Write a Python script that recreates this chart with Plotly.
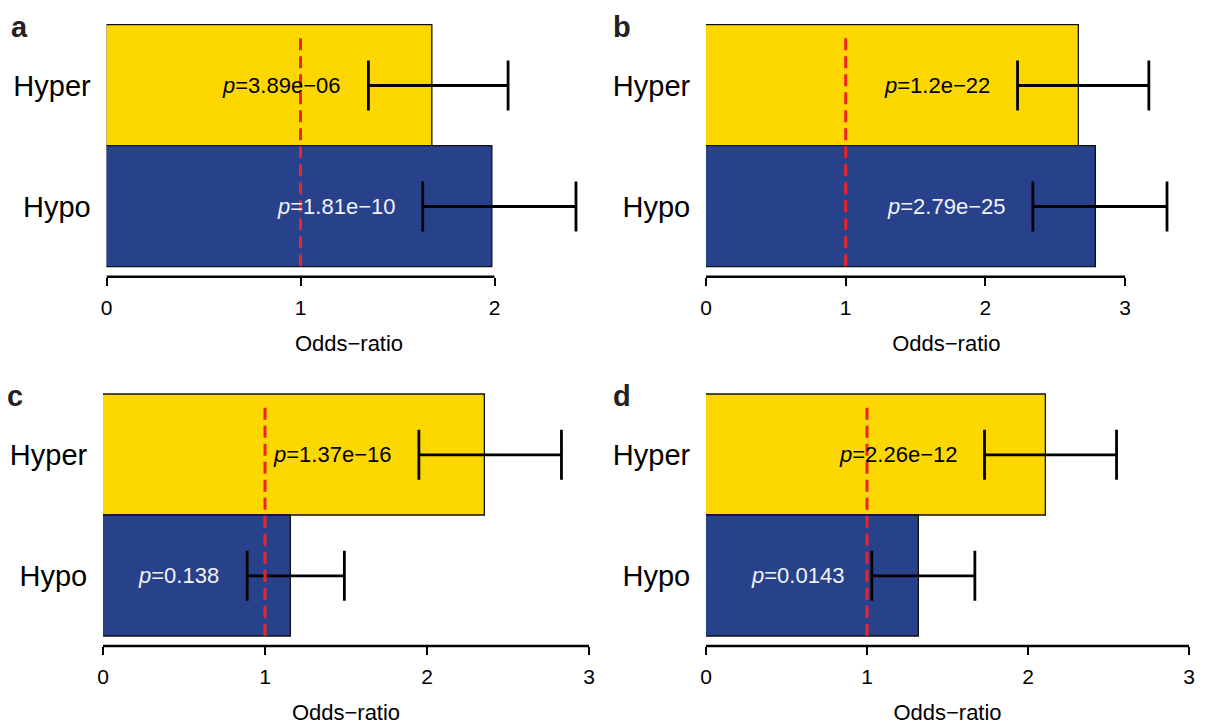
import plotly.graph_objects as go

categories = ["Hyper", "Hypo"]
panel_letters = ["a", "b", "c", "d"]

# odds ratios, confidence bounds, p-value labels per panel
or_a = [1.68, 1.99]
lo_a = [1.35, 1.63]
hi_a = [2.07, 2.42]
p_a = ["3.89e−06", "1.81e−10"]

or_b = [2.67, 2.79]
lo_b = [2.23, 2.34]
hi_b = [3.17, 3.30]
p_b = ["1.2e−22", "2.79e−25"]

or_c = [2.36, 1.16]
lo_c = [1.95, 0.89]
hi_c = [2.83, 1.49]
p_c = ["1.37e−16", "0.138"]

or_d = [2.11, 1.32]
lo_d = [1.73, 1.03]
hi_d = [2.55, 1.67]
p_d = ["2.26e−12", "0.0143"]

ticks_a = [0, 1, 2]
ticks_b = [0, 1, 2, 3]
ticks_c = [0, 1, 2, 3]
ticks_d = [0, 1, 2, 3]

ref_value = 1

OFF = 8  # page body margin
W, H = 1206 - OFF, 727 - OFF
YELLOW = "#FCD700"
BLUE = "#27428A"
RED = "#EE2229"
FONT = "Liberation Sans, Arial, Helvetica, sans-serif"

panels = [
    dict(orv=or_a, lo=lo_a, hi=hi_a, p=p_a, ticks=ticks_a, xr=[0, 2.5], px0=106.5, unit=194.0, ybot=276.7),
    dict(orv=or_b, lo=lo_b, hi=hi_b, p=p_b, ticks=ticks_b, xr=[0, 3.44], px0=706.0, unit=139.7, ybot=276.7),
    dict(orv=or_c, lo=lo_c, hi=hi_c, p=p_c, ticks=ticks_c, xr=[0, 3.0], px0=103.0, unit=162.0, ybot=646.0),
    dict(orv=or_d, lo=lo_d, hi=hi_d, p=p_d, ticks=ticks_d, xr=[0, 3.0], px0=706.0, unit=161.0, ybot=646.0),
]

fig = go.Figure()
annotations = []
shapes = []
layout_axes = {}
yrange = [1.58, -0.58]
bar_px = 242.0
region_h = bar_px * (yrange[0] - yrange[1]) / 2.0

for i, pnl in enumerate(panels):
    n = "" if i == 0 else str(i + 1)
    xa, ya = "x" + n, "y" + n
    px0 = pnl["px0"] - OFF
    ybot = pnl["ybot"] - OFF
    xd0 = px0 / W
    xd1 = (px0 + pnl["unit"] * pnl["xr"][1]) / W
    yd0 = 1 - ybot / H
    yd1 = 1 - (ybot - region_h) / H

    fig.add_trace(go.Bar(
        x=pnl["orv"], y=categories, orientation="h",
        marker=dict(color=[YELLOW, BLUE], line=dict(color="#111111", width=1.3)),
        xaxis=xa, yaxis=ya, showlegend=False, hoverinfo="skip",
    ))
    # confidence intervals
    fig.add_trace(go.Scatter(
        x=pnl["orv"], y=categories, mode="markers",
        marker=dict(size=1, color="rgba(0,0,0,0)"),
        error_x=dict(type="data", symmetric=False,
                     array=[h - v for h, v in zip(pnl["hi"], pnl["orv"])],
                     arrayminus=[v - l for v, l in zip(pnl["orv"], pnl["lo"])],
                     color="black", thickness=2.8, width=25),
        xaxis=xa, yaxis=ya, showlegend=False, hoverinfo="skip",
    ))
    for j, cat in enumerate(categories):
        annotations.append(dict(
            x=pnl["lo"][j], y=cat, xref=xa, yref=ya,
            text="<i>p</i>=" + pnl["p"][j], showarrow=False,
            xanchor="right", xshift=-26,
            font=dict(family=FONT, size=22, color="black" if j == 0 else "#F2F2F7"),
        ))
    # reference line at OR = 1
    shapes.append(dict(
        type="line", xref=xa, yref=ya, layer="above",
        x0=ref_value, x1=ref_value, y0=-0.39, y1=1.5,
        line=dict(color=RED, width=3, dash="12px,6px"),
    ))
    # axis line spanning tick range
    shapes.append(dict(
        type="line", xref=xa, yref=ya + " domain",
        x0=pnl["ticks"][0], x1=pnl["ticks"][-1], y0=0, y1=0,
        line=dict(color="black", width=2.4),
    ))
    annotations.append(dict(
        x=(px0 - 98) / W if i % 2 == 0 else (px0 - 95) / W,
        y=1 - (ybot - 250) / H, xref="paper", yref="paper",
        text="<b>" + panel_letters[i] + "</b>", showarrow=False,
        xanchor="left", yanchor="middle",
        font=dict(family=FONT, size=29, color="#222222"),
    ))
    layout_axes["xaxis" + n] = dict(
        domain=[xd0, xd1], range=pnl["xr"], anchor=ya, automargin=False,
        tickvals=pnl["ticks"], ticktext=[str(t) for t in pnl["ticks"]],
        ticks="outside", ticklen=8, tickwidth=2.4, tickcolor="black",
        ticklabelstandoff=4,
        showline=False, showgrid=False, zeroline=False,
        tickfont=dict(family=FONT, size=21, color="black"),
        title=dict(text="Odds−ratio", standoff=17,
                   font=dict(family=FONT, size=22, color="black")),
        fixedrange=True,
    )
    layout_axes["yaxis" + n] = dict(
        domain=[yd0, yd1], range=yrange, anchor=xa, automargin=False,
        type="category", categoryorder="array", categoryarray=categories,
        ticks="outside", ticklen=9, tickcolor="rgba(0,0,0,0)",
        showline=False, showgrid=False, zeroline=False,
        tickfont=dict(family=FONT, size=29, color="black"),
        fixedrange=True,
    )

fig.update_layout(
    width=W, height=H,
    margin=dict(l=0, r=0, t=0, b=0),
    paper_bgcolor="white", plot_bgcolor="white",
    bargap=0, showlegend=False,
    annotations=annotations, shapes=shapes,
    **layout_axes,
)

fig.write_html("out.html")
